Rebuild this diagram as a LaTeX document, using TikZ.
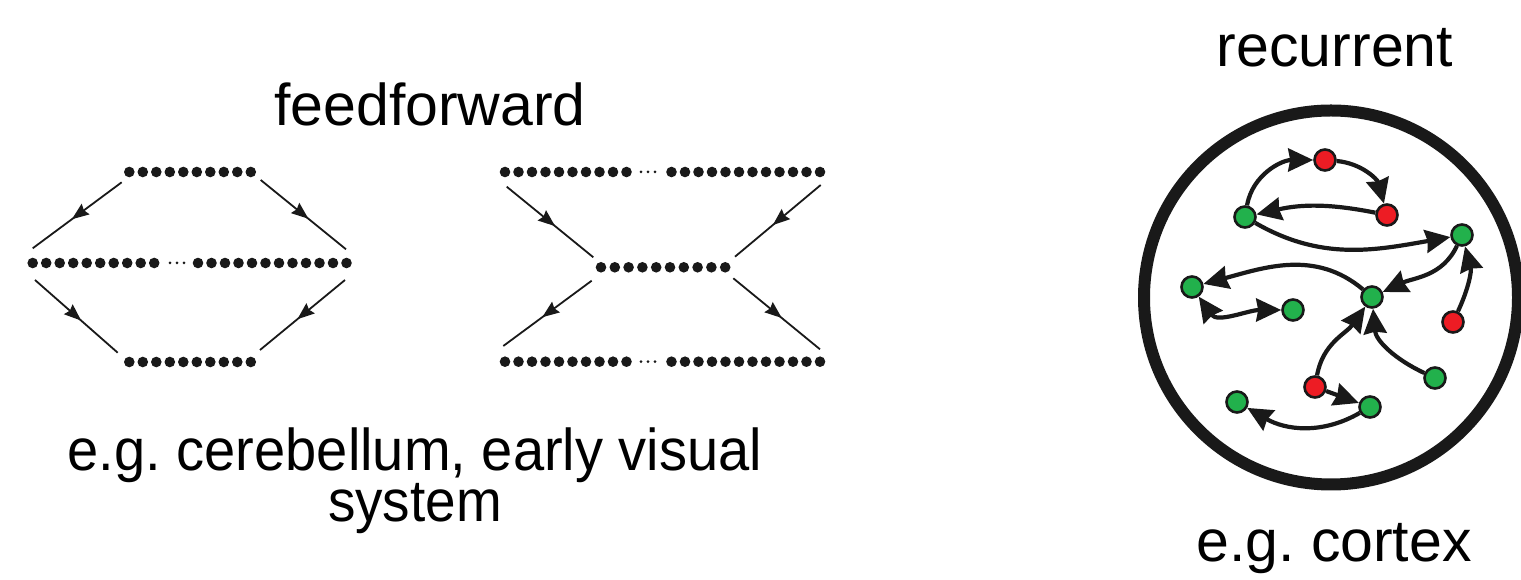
\documentclass[tikz,border=0pt]{standalone}
\usepackage{fontspec}
\setmainfont{Liberation Sans}
\usetikzlibrary{arrows.meta,decorations.markings}
\definecolor{ngreen}{RGB}{34,177,76}
\definecolor{nred}{RGB}{237,28,36}
\definecolor{ink}{RGB}{25,25,25}
\frenchspacing
\begin{document}
\begin{tikzpicture}[x=1pt,y=1pt,
  bigtext/.style={font=\fontsize{59}{66}\selectfont, inner sep=0pt, anchor=base},
  ffline/.style={line width=1.8pt, draw=ink, postaction={decorate},
    decoration={markings, mark=at position 0.56 with {\arrow{Stealth[length=17pt,width=13pt,inset=2pt]}}}},
  gnode/.style={circle, fill=ngreen, draw=ink, line width=2.6pt, minimum size=21pt, inner sep=0pt},
  rnode/.style={circle, fill=nred, draw=ink, line width=2.6pt, minimum size=21pt, inner sep=0pt},
  redge/.style={line width=4.2pt, draw=ink, -{Stealth[length=25pt,width=23pt,inset=2pt]}},
  redgeboth/.style={line width=4.2pt, draw=ink, {Stealth[length=25pt,width=23pt,inset=2pt]}-{Stealth[length=25pt,width=23pt,inset=2pt]}}
]
\useasboundingbox (0,0) rectangle (1521,580);

% ---------- titles ----------
\node[bigtext] (tff) at (430,454) {feedforward};
\node[bigtext] (trec) at (1335,513) {recurrent};
\node[bigtext, align=center, font=\fontsize{59}{47}\selectfont] (tcb) at (415,58)
  {\scalebox{0.95}[1]{e.g. cerebellum, early visual}\\ \scalebox{0.93}[1]{system}};
\node[bigtext] (tcx) at (1334,18) {e.g. cortex};

% ---------- left diamond (feedforward) ----------
\foreach \i in {0,...,9} {
  \fill[ink] (129.3+\i*13.5,408) circle (5.3);
  \fill[ink] (129.3+\i*13.5,218) circle (5.3);
  \fill[ink] (32.7+\i*13.5,317) circle (5.3);
}
\foreach \i in {0,...,11} \fill[ink] (198+\i*13.5,317) circle (5.3);
\foreach \x in {170,177,184} \fill[ink] (\x,317) circle (1.5);

\coordinate (a1s) at (121.7,397.7); \coordinate (a1e) at (32.7,331.7);
\coordinate (a2s) at (260.7,400);   \coordinate (a2e) at (346,330.7);
\coordinate (a3s) at (35,300);      \coordinate (a3e) at (117.7,227.3);
\coordinate (a4s) at (345,300);     \coordinate (a4e) at (260,230);
\draw[ffline] (a1s) -- (a1e);
\draw[ffline] (a2s) -- (a2e);
\draw[ffline] (a3s) -- (a3e);
\draw[ffline] (a4s) -- (a4e);

% ---------- right hourglass (feedforward) ----------
\foreach \i in {0,...,9} {
  \fill[ink] (505+\i*13.5,408) circle (5.3);
  \fill[ink] (505+\i*13.5,218.3) circle (5.3);
  \fill[ink] (601+\i*13.8,312.7) circle (5.3);
}
\foreach \i in {0,...,11} {
  \fill[ink] (671.5+\i*13.5,408) circle (5.3);
  \fill[ink] (671.5+\i*13.5,218.3) circle (5.3);
}
\foreach \x in {641,648,655} {
  \fill[ink] (\x,408) circle (1.5);
  \fill[ink] (\x,218.3) circle (1.5);
}
\coordinate (b1s) at (506.7,393.3); \coordinate (b1e) at (593.3,322.7);
\coordinate (b2s) at (820.7,395);   \coordinate (b2e) at (735,323.3);
\coordinate (b3s) at (591.7,299.3); \coordinate (b3e) at (503.3,234);
\coordinate (b4s) at (733.3,301.7); \coordinate (b4e) at (820,230.7);
\draw[ffline] (b1s) -- (b1e);
\draw[ffline] (b2s) -- (b2e);
\draw[ffline] (b3s) -- (b3e);
\draw[ffline] (b4s) -- (b4e);

% ---------- recurrent ----------
\draw[ink, line width=12pt] (1331,282.5) circle (187);

\node[rnode] (R1) at (1325,420) {};
\node[rnode] (R2) at (1387,365) {};
\node[gnode] (G1) at (1245,363) {};
\node[gnode] (G2) at (1462,345) {};
\node[gnode] (G3) at (1192,293) {};
\node[gnode] (G4) at (1293,270) {};
\node[gnode] (G5) at (1372,283) {};
\node[rnode] (R3) at (1453,258) {};
\node[gnode] (G6) at (1435,202) {};
\node[rnode] (R4) at (1315,193) {};
\node[gnode] (G7) at (1370,173) {};
\node[gnode] (G8) at (1237,178) {};

\draw[redge] (G1) to[out=80,in=180] (R1);
\draw[redge] (R1) to[out=-5,in=105] (R2);
\draw[redge] (R2) to[bend right=12] (G1);
\draw[redge] (G1) to[out=-30,in=190] (G2);
\draw[redge] (G2) to[out=-115,in=25] (G5);
\draw[redge] (G5) to[out=140,in=15] (G3);
\draw[redgeboth] (G3) to[out=-55,in=180] (G4);
\draw[redge] (R3) to[out=65,in=-75] (G2);
\draw[redge] (R4) to[out=80,in=-125] (G5);
\draw[redge] (G6) to[out=155,in=-85] (G5);
\draw[redge] (R4) -- (G7);
\draw[redge] (G7) to[out=-150,in=-30] (G8);
\end{tikzpicture}
\end{document}
